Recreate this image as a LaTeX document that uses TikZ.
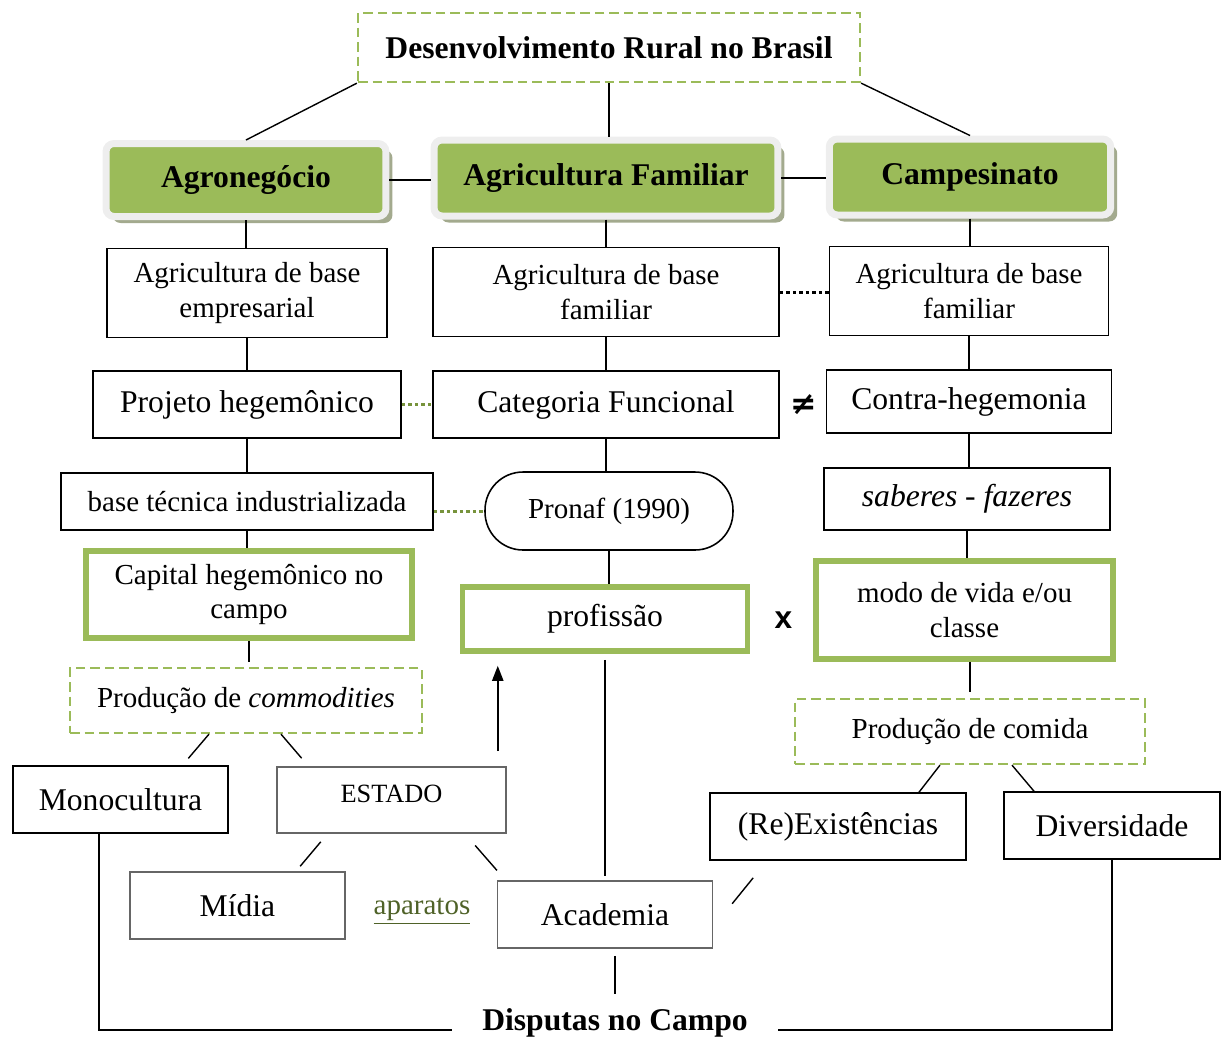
\documentclass[tikz,border=0pt]{standalone}
\usepackage{fontspec}
\setmainfont{Liberation Serif}
\newfontfamily\simbolos{DejaVu Sans}
\newfontfamily\fontesans{Liberation Sans}
\usetikzlibrary{arrows.meta,shadows}

\definecolor{verde}{HTML}{9BBB59}
\definecolor{verdeesc}{HTML}{77933C}
\definecolor{oliva}{HTML}{4F6228}
\definecolor{moldura}{HTML}{EEEEEE}
\definecolor{sombra}{HTML}{A3AA8E}

\newcommand{\fgrande}{\fontsize{18}{21}\selectfont}
\newcommand{\fmedio}{\fontsize{16.5}{19.5}\selectfont}

\tikzset{
  caixa/.style={draw, line width=0.9pt, align=center, inner sep=2pt, font=\fmedio},
  cinza/.style={caixa, draw=black!60},
  verdegrossa/.style={caixa, draw=verde, line width=0.11cm},
  tracejada/.style={caixa, draw=verde, line width=0.045cm, dash pattern=on 0.19cm off 0.1cm},
  cabeca/.style={draw=moldura, line width=0.14cm, fill=verde, rounded corners=0.16cm,
    font=\fgrande\bfseries,
    drop shadow={shadow xshift=0.13cm, shadow yshift=-0.13cm, fill=sombra, opacity=1}},
  liga/.style={line width=0.8pt},
  pontos/.style={line width=0.06cm, dash pattern=on 0.07cm off 0.06cm},
}

\begin{document}
\begin{tikzpicture}[x=0.02cm, y=-0.02cm]

    % Fix the frame
    \useasboundingbox (0,0) rectangle (1221,1039);

    % Title
    \node[tracejada, font=\fgrande\bfseries, minimum width=10.04cm, minimum height=1.38cm] (tit) at (609,47.5) {Desenvolvimento Rural no Brasil};

    % Three main categories
    \node[cabeca, minimum width=5.6cm, minimum height=1.46cm] (agro) at (246,180) {Agronegócio};
    \node[cabeca, minimum width=6.88cm, minimum height=1.52cm] (fam) at (606,178) {Agricultura Familiar};
    \node[cabeca, minimum width=5.63cm, minimum height=1.52cm] (camp) at (970,177) {Campesinato};

    % Second row
    \node[caixa, minimum width=5.6cm, minimum height=1.78cm] (emp) at (247,293) {Agricultura de base\\empresarial};
    \node[caixa, minimum width=6.92cm, minimum height=1.78cm] (famb) at (606,292) {Agricultura de base\\familiar};
    \node[caixa, minimum width=5.58cm, minimum height=1.78cm] (campb) at (969,291) {Agricultura de base\\familiar};

    % Third row
    \node[caixa, font=\fgrande, minimum width=6.16cm, minimum height=1.34cm] (proj) at (247,404.5) {Projeto hegemônico};
    \node[caixa, font=\fgrande, minimum width=6.92cm, minimum height=1.34cm] (cat) at (606,404.5) {Categoria Funcional};
    \node[caixa, font=\fgrande, minimum width=5.7cm, minimum height=1.26cm] (contra) at (969,401.5) {Contra-hegemonia};
    \node[font=\simbolos\bfseries\fontsize{18}{20}\selectfont] (dif) at (804,405) {≠};

    % Fourth row
    \node[caixa, minimum width=7.44cm, minimum height=1.14cm] (base) at (247,501.5) {base técnica industrializada};
    \node[caixa, rounded corners=0.76cm, minimum width=4.96cm, minimum height=1.56cm] (pronaf) at (609,511) {Pronaf (1990)};
    \node[caixa, font=\fgrande\itshape, minimum width=5.72cm, minimum height=1.24cm] (saber) at (967,499) {saberes - fazeres};

    % Green boxes
    \node[verdegrossa, minimum width=6.52cm, minimum height=1.74cm] (cap) at (249,594.5) {Capital hegemônico no\\campo};
    \node[verdegrossa, font=\fgrande, minimum width=5.7cm, minimum height=1.28cm] (prof) at (605,619) {profissão};
    \node[verdegrossa, minimum width=5.94cm, minimum height=1.96cm] (modo) at (964.5,610) {modo de vida e/ou\\classe};
    \node[font=\fontesans\bfseries\fontsize{18}{21}\selectfont] (xis) at (783.5,620) {x};

    % Production
    \node[tracejada, minimum width=7.04cm, minimum height=1.3cm] (comm) at (246,700.5) {Produção de \textit{commodities}};
    \node[tracejada, minimum width=7.0cm, minimum height=1.3cm] (comida) at (970,731.5) {Produção de comida};

    % Lower boxes
    \node[caixa, font=\fgrande, minimum width=4.3cm, minimum height=1.34cm] (mono) at (120.5,799.5) {Monocultura};
    \node[cinza, font=\fontsize{15}{18}\selectfont, text depth=0.24cm, minimum width=4.58cm, minimum height=1.32cm] (estado) at (391.5,800) {ESTADO};
    \node[caixa, font=\fgrande, minimum width=5.12cm, minimum height=1.34cm] (exist) at (838,826.5) {(Re)Existências};
    \node[caixa, font=\fgrande, minimum width=4.32cm, minimum height=1.34cm] (divers) at (1112,825.5) {Diversidade};
    \node[cinza, font=\fgrande, minimum width=4.3cm, minimum height=1.34cm] (midia) at (237.5,905.5) {Mídia};
    \node[font=\fmedio, text=oliva] (apar) at (422,911) {\underline{aparatos}};
    \node[cinza, font=\fgrande, minimum width=4.3cm, minimum height=1.34cm] (acad) at (605,914.5) {Academia};

    % Bottom label
    \node[font=\fgrande\bfseries, inner xsep=0.6cm, inner ysep=0pt, anchor=base] (disp) at (615,1030) {Disputas no Campo};

    % Title links
    \draw[liga] (tit.south west) -- (agro.north);
    \draw[liga] (tit.south) -- (tit.south |- fam.north);
    \draw[liga] (tit.south east) -- (camp.north);
    \draw[liga] (agro.east) -- (agro.east -| fam.west);
    \draw[liga] (fam.east) -- (fam.east -| camp.west);

    % Vertical links
    \draw[liga] (agro.south) -- (agro.south |- emp.north);
    \draw[liga] (fam.south) -- (fam.south |- famb.north);
    \draw[liga] (camp.south) -- (camp.south |- campb.north);
    \draw[liga] (emp.south) -- (emp.south |- proj.north);
    \draw[liga] (famb.south) -- (famb.south |- cat.north);
    \draw[liga] (campb.south) -- (campb.south |- contra.north);
    \draw[liga] (proj.south) -- (proj.south |- base.north);
    \draw[liga] (cat.south) -- (cat.south |- pronaf.north);
    \draw[liga] (contra.south) -- (contra.south |- saber.north);
    \draw[liga] (base.south) -- (base.south |- cap.north);
    \draw[liga] (pronaf.south) -- (pronaf.south |- prof.north);
    \draw[liga] (saber.south) -- (saber.south |- modo.north);
    \draw[liga, shorten >=0.1cm] (cap.south) -- (cap.south |- comm.north);
    \draw[liga, shorten >=0.12cm] (comida.north |- modo.south) -- (comida.north);
    \draw[liga, shorten <=0.12cm, shorten >=0.08cm] (prof.south) -- (prof.south |- acad.north);
    \draw[liga, shorten <=0.14cm, shorten >=0.27cm] (acad.south -| disp.north) -- (disp.north);

    % Dotted links
    \draw[pontos] (famb.east) -- (famb.east -| campb.west);
    \draw[pontos, draw=verdeesc] (proj.east) -- (proj.east -| cat.west);
    \draw[pontos, draw=verdeesc] (base.east |- pronaf.west) -- (pronaf.west);

    % Diagonal links
    \draw[liga, shorten >=0.18cm] ([xshift=-0.74cm]comm.south) -- ([xshift=1.24cm]mono.north);
    \draw[liga, shorten >=0.21cm] ([xshift=0.7cm]comm.south) -- ([xshift=-1.66cm]estado.north);
    \draw[liga] ([xshift=-0.6cm]comida.south) -- ([xshift=1.62cm]exist.north);
    \draw[liga] ([xshift=0.84cm]comida.south) -- ([xshift=-1.56cm]divers.north);
    \draw[liga, shorten <=0.21cm, shorten >=0.13cm] ([xshift=-1.28cm]estado.south) -- ([xshift=1.17cm]midia.north);
    \draw[liga, shorten <=0.31cm, shorten >=0.26cm] ([xshift=1.47cm]estado.south) -- ([xshift=-1.99cm]acad.north);
    \draw[liga, shorten <=0.6cm, shorten >=0.44cm] ([yshift=-0.25cm]acad.east) -- ([xshift=-1.42cm]exist.south);

    % Arrow up to profissao
    \coordinate (seta) at ([xshift=-0.18cm, yshift=0.3cm]estado.north east);
    \draw[line width=1.2pt, -{Triangle[length=0.3cm, width=0.22cm]}, shorten >=0.24cm] (seta) -- (seta |- prof.south);

    % Disputas
    \draw[line width=1pt] ([xshift=-0.43cm]mono.south) |- (disp.base west);
    \draw[line width=1pt] (divers.south) |- (disp.base east);

\end{tikzpicture}
\end{document}
